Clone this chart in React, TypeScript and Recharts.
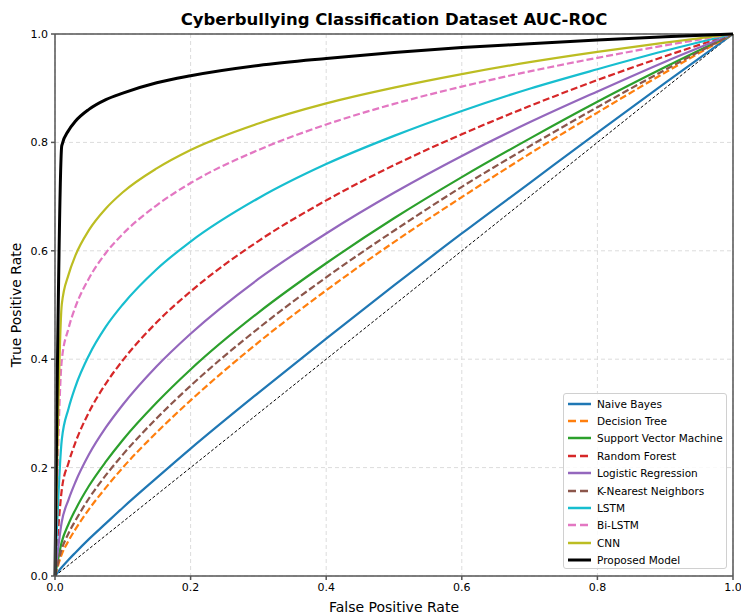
import React from "react";
import { LineChart, Line, XAxis, YAxis, CartesianGrid, ReferenceLine } from "recharts";

// false positive rate samples shared by every curve
const fpr = [0, 0.01, 0.02, 0.03, 0.05, 0.075, 0.1, 0.15, 0.2, 0.3, 0.4, 0.5, 0.6, 0.7, 0.8, 0.9, 1];

const naiveBayes = [0, 0.016, 0.03, 0.043, 0.068, 0.097, 0.126, 0.181, 0.235, 0.338, 0.438, 0.536, 0.632, 0.725, 0.818, 0.91, 1];
const decisionTree = [0, 0.04, 0.065, 0.086, 0.123, 0.163, 0.2, 0.265, 0.324, 0.431, 0.527, 0.616, 0.699, 0.779, 0.855, 0.929, 1];
const svm = [0, 0.063, 0.096, 0.122, 0.166, 0.211, 0.251, 0.32, 0.381, 0.486, 0.577, 0.66, 0.736, 0.807, 0.875, 0.939, 1];
const randomForest = [0, 0.159, 0.209, 0.246, 0.302, 0.355, 0.398, 0.468, 0.525, 0.618, 0.693, 0.758, 0.815, 0.867, 0.915, 0.959, 1];
const logReg = [0, 0.1, 0.141, 0.173, 0.224, 0.274, 0.316, 0.387, 0.447, 0.548, 0.632, 0.707, 0.775, 0.837, 0.894, 0.949, 1];
const knn = [0, 0.05, 0.079, 0.102, 0.143, 0.186, 0.224, 0.291, 0.351, 0.457, 0.551, 0.637, 0.718, 0.793, 0.865, 0.934, 1];
const lstm = [0, 0.251, 0.309, 0.349, 0.407, 0.46, 0.501, 0.566, 0.617, 0.697, 0.76, 0.812, 0.858, 0.899, 0.935, 0.969, 1];
const biLstm = [0, 0.398, 0.457, 0.496, 0.549, 0.596, 0.631, 0.684, 0.725, 0.786, 0.833, 0.871, 0.903, 0.931, 0.956, 0.979, 1];
const cnn = [0, 0.501, 0.556, 0.591, 0.638, 0.678, 0.708, 0.752, 0.786, 0.835, 0.872, 0.901, 0.926, 0.948, 0.967, 0.984, 1];
const proposed = [0, 0.794, 0.822, 0.839, 0.861, 0.879, 0.891, 0.91, 0.923, 0.942, 0.955, 0.966, 0.975, 0.982, 0.989, 0.995, 1];

const ticks = [0, 0.2, 0.4, 0.6, 0.8, 1];

const series = [
  { key: "nb", label: "Naive Bayes", values: naiveBayes, color: "#1f77b4", dash: false, width: 2 },
  { key: "dt", label: "Decision Tree", values: decisionTree, color: "#ff7f0e", dash: true, width: 2 },
  { key: "svm", label: "Support Vector Machine", values: svm, color: "#2ca02c", dash: false, width: 2 },
  { key: "rf", label: "Random Forest", values: randomForest, color: "#d62728", dash: true, width: 2 },
  { key: "lr", label: "Logistic Regression", values: logReg, color: "#9467bd", dash: false, width: 2 },
  { key: "knn", label: "K-Nearest Neighbors", values: knn, color: "#8c564b", dash: true, width: 2 },
  { key: "lstm", label: "LSTM", values: lstm, color: "#17becf", dash: false, width: 2 },
  { key: "bilstm", label: "Bi-LSTM", values: biLstm, color: "#e377c2", dash: true, width: 2 },
  { key: "cnn", label: "CNN", values: cnn, color: "#bcbd22", dash: false, width: 2 },
  { key: "prop", label: "Proposed Model", values: proposed, color: "#000000", dash: false, width: 3 },
];

const data = fpr.map((x, i) => {
  const row: Record<string, number> = { fpr: x, chance: x };
  series.forEach((s) => (row[s.key] = s.values[i]));
  return row;
});

const font = "'DejaVu Sans', sans-serif";
const spine = "#555";

export default function App() {
  return (
    <div style={{ position: "absolute", left: 0, top: 0, width: 741, height: 616, background: "#fff", fontFamily: font }}>
      <div style={{ position: "absolute", left: 0, width: 788, top: 10, textAlign: "center", fontSize: 16.5, fontWeight: "bold", color: "#000" }}>
        Cyberbullying Classification Dataset AUC-ROC
      </div>
      <LineChart width={741} height={616} data={data} margin={{ top: 34, right: 8, left: 0, bottom: 0 }}>
        <CartesianGrid stroke="#dcdcdc" strokeDasharray="4 3" />
        <XAxis
          dataKey="fpr"
          type="number"
          domain={[0, 1]}
          ticks={ticks}
          tickFormatter={(v: number) => v.toFixed(1)}
          height={40}
          tickSize={4}
          tickMargin={3}
          stroke={spine}
          strokeWidth={1.5}
          tick={{ fill: "#000", fontSize: 11, fontFamily: font }}
        />
        <YAxis
          type="number"
          domain={[0, 1]}
          ticks={ticks}
          tickFormatter={(v: number) => v.toFixed(1)}
          width={55}
          tickSize={4}
          tickMargin={3}
          stroke={spine}
          strokeWidth={1.5}
          tick={{ fill: "#000", fontSize: 11, fontFamily: font }}
        />
        <ReferenceLine x={1} stroke={spine} strokeWidth={1.5} />
        <ReferenceLine y={1} stroke={spine} strokeWidth={1.5} />
        <Line dataKey="chance" type="linear" stroke="#000" strokeWidth={1} strokeDasharray="3 2" dot={false} isAnimationActive={false} />
        {series.map((s) => (
          <Line
            key={s.key}
            dataKey={s.key}
            type="monotone"
            stroke={s.color}
            strokeWidth={s.width === 3 ? 3 : 2.2}
            strokeDasharray={s.dash ? "7 3" : undefined}
            dot={false}
            isAnimationActive={false}
          />
        ))}
      </LineChart>
      <div style={{ position: "absolute", left: 0, width: 788, top: 599, textAlign: "center", fontSize: 14, color: "#000" }}>
        False Positive Rate
      </div>
      <div
        style={{
          position: "absolute",
          left: 16,
          top: 305,
          transform: "translate(-50%, -50%) rotate(-90deg)",
          fontSize: 14,
          whiteSpace: "nowrap",
          color: "#000",
        }}
      >
        True Positive Rate
      </div>
      <div
        style={{
          position: "absolute",
          left: 563,
          top: 393,
          width: 164,
          height: 176,
          border: "1px solid #d0d0d0",
          borderRadius: 3,
          background: "rgba(255,255,255,0.85)",
          boxSizing: "border-box",
          padding: "1px 0 0 3px",
        }}
      >
        {series.map((s) => (
          <div key={s.key} style={{ display: "flex", alignItems: "center", height: 17.4, fontSize: 10.5, color: "#000" }}>
            <svg width={24} height={10} style={{ marginRight: 6, flexShrink: 0 }}>
              <line x1={1} y1={5} x2={24} y2={5} stroke={s.color} strokeWidth={s.width === 3 ? 3 : 2.5} strokeDasharray={s.dash ? "8 4" : undefined} />
            </svg>
            <span style={{ whiteSpace: "nowrap" }}>{s.label}</span>
          </div>
        ))}
      </div>
    </div>
  );
}
